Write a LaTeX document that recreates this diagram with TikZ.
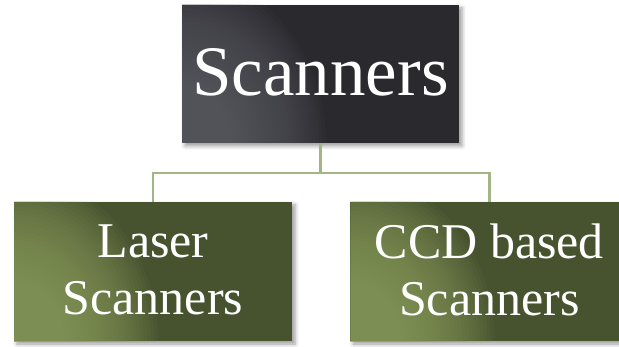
\documentclass[tikz,border=0pt]{standalone}
\usepackage{fontspec}
\setmainfont{Liberation Serif}
\usepackage{xcolor}
\usetikzlibrary{positioning,shadows.blur}

\definecolor{topdark}{HTML}{2A292E}
\definecolor{toplight}{HTML}{62636A}
\definecolor{olivedark}{HTML}{47532F}
\definecolor{olivelight}{HTML}{93A564}
\definecolor{linkgreen}{HTML}{A4B585}

% soft glow in the lower left corner of a box
\newcommand\cornerglow[1]{%
  \foreach \k in {14,...,40}{%
    \fill[#1,opacity=0.06] (path picture bounding box.south west)
      ellipse ({\k*3.6pt} and {\k*4.2pt});}}

\begin{document}
\begin{tikzpicture}[x=1pt,y=1pt,
  node distance=58pt,
  topbox/.style={fill=topdark,text=white,inner sep=0pt,align=center,
                 minimum width=277pt,minimum height=138pt,
                 font=\fontsize{71}{80}\selectfont,text depth=0.4em,
                 blur shadow={shadow xshift=3pt,shadow yshift=-3pt,shadow blur radius=4pt},
                 path picture={\cornerglow{toplight}}},
  subbox/.style={fill=olivedark,text=white,inner sep=0pt,align=center,
                 minimum width=278pt,minimum height=139pt,
                 font=\fontsize{50}{57}\selectfont,text depth=0.4em,
                 blur shadow={shadow xshift=3pt,shadow yshift=-3pt,shadow blur radius=4pt},
                 path picture={\cornerglow{olivelight}}},
  link/.style={draw=linkgreen,line width=2.5pt}]
  \path[use as bounding box,clip] (0,0) rectangle (619,346);
  % boxes
  \node[topbox] (scan) at (320.5,272) {Scanners};
  \node[subbox] (laser) at (153,74.5) {Laser\\Scanners};
  \node[subbox,right=of laser] (ccd) {CCD based\\Scanners};
  % tree links
  \draw[link] (scan.south) -- ++(0,-30) -| (laser.north);
  \draw[link] (scan.south) -- ++(0,-30) -| (ccd.north);
\end{tikzpicture}
\end{document}
